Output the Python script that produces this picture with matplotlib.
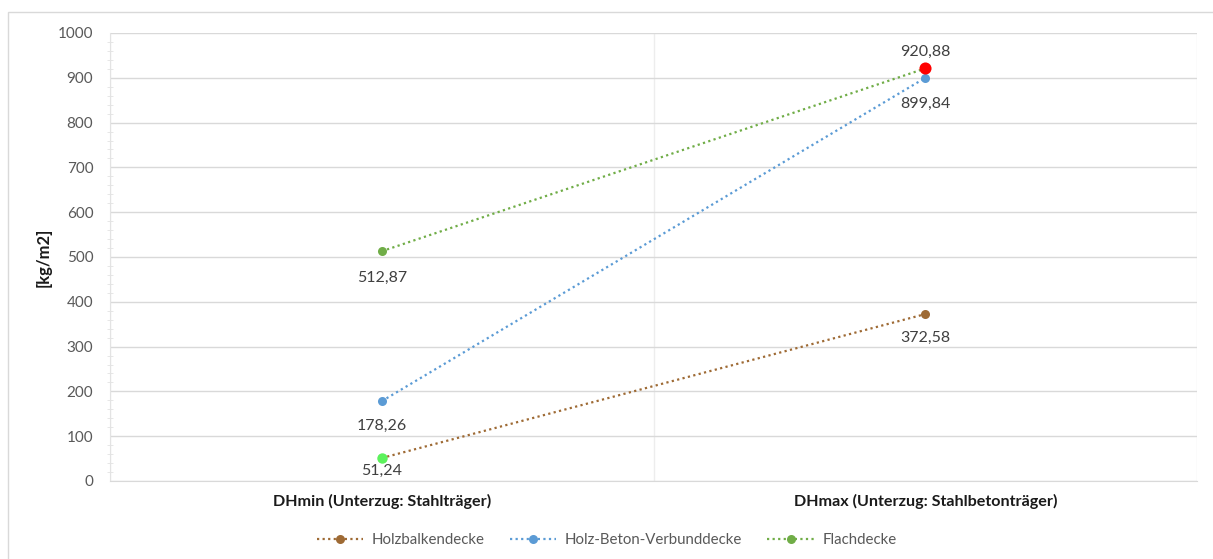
import matplotlib
matplotlib.use("Agg")
import matplotlib.pyplot as plt
from matplotlib.lines import Line2D
from matplotlib.patches import Rectangle
from matplotlib.ticker import MultipleLocator

plt.rcParams['font.family'] = ['Lato', 'DejaVu Sans']

categories = ["DHmin (Unterzug: Stahlträger)", "DHmax (Unterzug: Stahlbetonträger)"]
series_names = ["Holzbalkendecke", "Holz-Beton-Verbunddecke", "Flachdecke"]
holzbalken = [51.24, 372.58]
hbv = [178.26, 899.84]
flach = [512.87, 920.88]
series_values = [holzbalken, hbv, flach]
series_colors = ["#9E6A34", "#5B9BD5", "#70AD47"]
# vertical offsets of the value labels, in points
label_offsets = [[-9.5, -17.5], [-17.5, -18.5], [-19, 12]]
# individually highlighted points: (series index, category index, colour, size)
highlights = [(0, 0, "#5CF25C", 7.5), (2, 1, "#FF0000", 8.7)]

W, H = 1213, 559
fig = plt.figure(figsize=(W / 100, H / 100), dpi=100)
ax = fig.add_axes([110 / W, 1 - 481 / H, (1197 - 110) / W, (481 - 33) / H])

# chart frame
fig.patches.append(Rectangle((8 / W, -0.05), 1.2, 1 - 12 / H + 0.05,
                             transform=fig.transFigure, fill=False,
                             edgecolor="#D9D9D9", linewidth=1.0))

grid_c = "#D9D9D9"
text_c = "#595959"
x = list(range(len(categories)))

ax.set_xlim(-0.5, len(categories) - 0.5)
ax.set_ylim(0, 1000)
ax.yaxis.set_major_locator(MultipleLocator(100))
ax.yaxis.set_minor_locator(MultipleLocator(20))
ax.grid(axis="y", which="major", color=grid_c, linewidth=1.0)
for xv in [-0.5 + i for i in range(len(categories) + 1)]:
    ax.axvline(xv, color="#EDEDED", linewidth=1.0, zorder=0)
ax.set_axisbelow(True)
for s in ["top", "right"]:
    ax.spines[s].set_visible(False)
ax.spines["left"].set_color("#E3E3E3")
ax.spines["bottom"].set_color(grid_c)
ax.tick_params(axis="y", which="major", length=0, labelsize=11, labelcolor=text_c, pad=12)
ax.tick_params(axis="y", which="minor", length=4, direction="inout", color="#E3E3E3")
ax.tick_params(axis="x", length=0, pad=9)
ax.set_xticks(x)
ax.set_xticklabels(categories, fontsize=11.6, fontweight="bold", color="#1A1A1A")
ax.set_ylabel("[kg/m2]", fontsize=12, fontweight="bold", color="#1A1A1A")
ax.yaxis.set_label_coords(-0.0534, 0.5)

for vals, name, col, offs in zip(series_values, series_names, series_colors, label_offsets):
    ax.plot(x, vals, linestyle=(0, (1, 1.5)), linewidth=1.6, color=col,
            marker="o", markersize=6.5, markeredgewidth=0, label=name, zorder=3)
    for xi, v, off in zip(x, vals, offs):
        ax.annotate(f"{v:.2f}".replace(".", ","), (xi, v), xytext=(0, off),
                    textcoords="offset points", ha="center", va="center",
                    fontsize=11.5, color="#404040")

for si, ci, col, ms in highlights:
    ax.plot([x[ci]], [series_values[si][ci]], linestyle="none", marker="o",
            markersize=ms, markeredgewidth=0, color=col, zorder=4)

handles = [Line2D([0], [0], color=c, linestyle=(0, (1, 1.5)), linewidth=1.6,
                  marker="o", markersize=6.5, markeredgewidth=0) for c in series_colors]
leg = fig.legend(handles, series_names, loc="center", bbox_to_anchor=(0.5, 1 - 540 / H),
                 ncol=3, frameon=False, fontsize=10.8, handlelength=3.1,
                 columnspacing=1.7, handletextpad=0.55)
for t in leg.get_texts():
    t.set_color(text_c)

fig.savefig("out.png", dpi=100, facecolor="white")
